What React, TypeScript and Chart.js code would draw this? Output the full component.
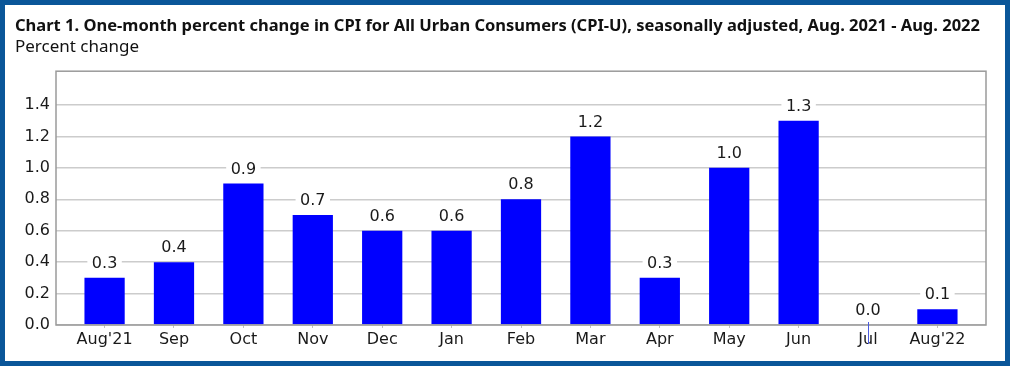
import React, { useEffect, useRef } from "react";
import { Chart, registerables } from "chart.js";

Chart.register(...registerables);

const months = ["Aug'21", "Sep", "Oct", "Nov", "Dec", "Jan", "Feb", "Mar", "Apr", "May", "Jun", "Jul", "Aug'22"];
const percentChange = [0.3, 0.4, 0.9, 0.7, 0.6, 0.6, 0.8, 1.2, 0.3, 1.0, 1.3, 0.0, 0.1];
const yTicks = [0, 0.2, 0.4, 0.6, 0.8, 1.0, 1.2, 1.4];

const TITLE = "Chart 1. One-month percent change in CPI for All Urban Consumers (CPI-U), seasonally adjusted, Aug. 2021 - Aug. 2022";
const SUBTITLE = "Percent change";
const FONT = "'DejaVu Sans', sans-serif";
const TITLE_FONT = "'Noto Sans', 'Open Sans', sans-serif";

const boxAndLabels = {
  id: "boxAndLabels",
  afterDatasetsDraw(chart: any) {
    const { ctx, chartArea } = chart;
    const yScale = chart.scales.y;
    const meta = chart.getDatasetMeta(0);
    ctx.save();
    // plot frame
    ctx.strokeStyle = "#9a9a9a";
    ctx.lineWidth = 1.5;
    ctx.strokeRect(chartArea.left, chartArea.top, chartArea.right - chartArea.left, chartArea.bottom - chartArea.top);
    ctx.font = `16px ${FONT}`;
    ctx.textAlign = "center";
    ctx.textBaseline = "middle";
    meta.data.forEach((bar: any, i: number) => {
      const v = percentChange[i];
      const x = bar.x;
      const yTop = yScale.getPixelForValue(v);
      if (v === 0) {
        ctx.strokeStyle = "#4a5be0";
        ctx.lineWidth = 1;
        ctx.beginPath();
        ctx.moveTo(Math.round(x) + 0.5, yTop - 3);
        ctx.lineTo(Math.round(x) + 0.5, yTop + 19);
        ctx.stroke();
      }
      const text = v.toFixed(1);
      const w = ctx.measureText(text).width + 9;
      const cy = yTop - 15;
      ctx.fillStyle = "#ffffff";
      ctx.fillRect(x - w / 2, cy - 9, w, 18);
      ctx.fillStyle = "#1a1a1a";
      ctx.fillText(text, x, cy + 1);
    });
    ctx.restore();
  },
};

export default function App() {
  const ref = useRef<HTMLCanvasElement>(null);
  useEffect(() => {
    const chart = new Chart(ref.current!, {
      type: "bar",
      data: {
        datasets: [
          {
            data: percentChange.map((v, i) => ({ x: i, y: v })),
            backgroundColor: "#0000ff",
            borderWidth: 0,
            barPercentage: 0.58,
            categoryPercentage: 1,
          },
        ],
      },
      options: {
        animation: false,
        responsive: false,
        maintainAspectRatio: false,
        layout: { padding: { left: 10, right: 19, top: 0, bottom: 0 } },
        plugins: {
          legend: { display: false },
          tooltip: { enabled: false },
          title: {
            display: true,
            text: TITLE,
            align: "start",
            color: "#111111",
            font: { family: TITLE_FONT, size: 16.5, weight: "bold" },
            padding: { top: 11, bottom: 1 },
          },
          subtitle: {
            display: true,
            text: SUBTITLE,
            align: "start",
            color: "#111111",
            font: { family: TITLE_FONT, size: 17, weight: "normal" },
            padding: { top: 0, bottom: 14 },
          },
        },
        scales: {
          x: {
            type: "linear",
            offset: false,
            min: -0.7,
            max: 12.7,
            afterBuildTicks: (axis: any) => {
              axis.ticks = months.map((_, i) => ({ value: i }));
            },
            afterFit: (axis: any) => {
              axis.height = 36;
            },
            grid: { offset: false, drawOnChartArea: false, drawTicks: true, tickLength: 3, tickColor: "#c0c0c0" },
            border: { display: false },
            ticks: {
              autoSkip: false,
              maxRotation: 0,
              padding: 2,
              color: "#1a1a1a",
              font: { family: FONT, size: 16 },
              callback: (v: any) => months[Number(v)] ?? "",
            },
          },
          y: {
            min: 0,
            max: 1.615,
            afterBuildTicks: (axis: any) => {
              axis.ticks = yTicks.map((v) => ({ value: v }));
            },
            afterFit: (axis: any) => {
              axis.width = 41;
            },
            grid: { color: "#cccccc", lineWidth: 1.5, drawTicks: false },
            border: { display: false },
            ticks: {
              padding: 6,
              color: "#1a1a1a",
              font: { family: FONT, size: 16 },
              callback: (v: any) => Number(v).toFixed(1),
            },
          },
        },
      },
      plugins: [boxAndLabels],
    } as any);
    return () => chart.destroy();
  }, []);
  return (
    <div
      style={{
        position: "absolute",
        left: 0,
        top: 0,
        width: 1010,
        height: 366,
        boxSizing: "border-box",
        border: "5px solid #0a5699",
        background: "#ffffff",
      }}
    >
      <canvas ref={ref} width={1000} height={356} style={{ display: "block", width: 1000, height: 356 }} />
    </div>
  );
}
